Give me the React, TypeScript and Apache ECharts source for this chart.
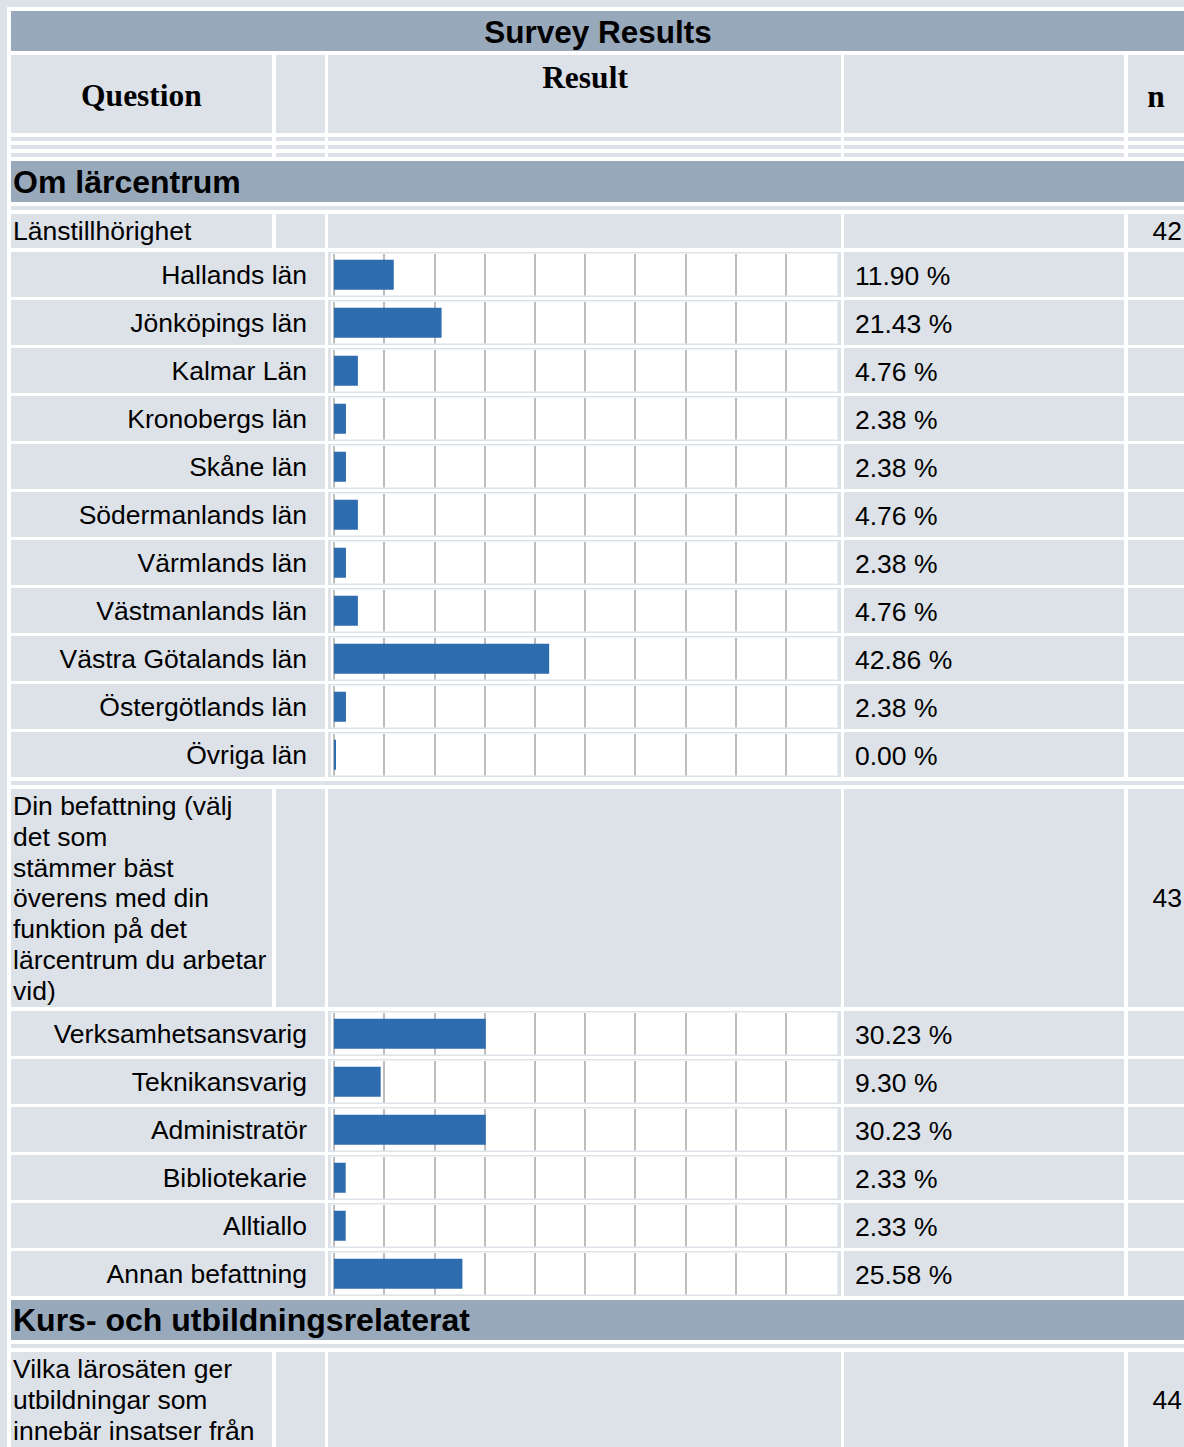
import { useEffect, useRef } from "react";
import * as echarts from "echarts";

// ---------- data ----------
const TITLE = "Survey Results";
const HEAD_QUESTION = "Question";
const HEAD_RESULT = "Result";
const HEAD_N = "n";

const SECTION_1 = "Om lärcentrum";
const SECTION_2 = "Kurs- och utbildningsrelaterat";

const Q1_LINES = ["Länstillhörighet"];
const Q1_N = 42;
const Q1_CATEGORIES = [
  "Hallands län",
  "Jönköpings län",
  "Kalmar Län",
  "Kronobergs län",
  "Skåne län",
  "Södermanlands län",
  "Värmlands län",
  "Västmanlands län",
  "Västra Götalands län",
  "Östergötlands län",
  "Övriga län",
];
const Q1_VALUES = [11.9, 21.43, 4.76, 2.38, 2.38, 4.76, 2.38, 4.76, 42.86, 2.38, 0.0];

const Q2_LINES = [
  "Din befattning (välj",
  "det som",
  "stämmer bäst",
  "överens med din",
  "funktion på det",
  "lärcentrum du arbetar",
  "vid)",
];
const Q2_N = 43;
const Q2_CATEGORIES = [
  "Verksamhetsansvarig",
  "Teknikansvarig",
  "Administratör",
  "Bibliotekarie",
  "Alltiallo",
  "Annan befattning",
];
const Q2_VALUES = [30.23, 9.3, 30.23, 2.33, 2.33, 25.58];

const Q3_LINES = ["Vilka lärosäten ger", "utbildningar som", "innebär insatser från"];
const Q3_N = 44;

// ---------- styling ----------
const W = 1184;
const H = 1447;
const LIGHT = "#dde2e9";
const DARK = "#98a9bb";
const BAR = "#2d6cae";
const GRID_LINE = "#bdbdbd";
const SANS = "'Liberation Sans', Arial, Helvetica, sans-serif";
const SERIF = "'Liberation Serif', 'Times New Roman', serif";
const BODY_FS = 26.5;

const C1: [number, number] = [11, 272];
const C2: [number, number] = [276, 325];
const C3: [number, number] = [328, 841];
const C4: [number, number] = [844, 1124];
const C5: [number, number] = [1128, 1192];
const FULL: [number, number] = [11, 1192];

const ROW_PITCH = 48;
const ROW_H = 45;
const LINE_H = 30.7;

function rect(x: [number, number], y1: number, y2: number, fill: string) {
  return {
    type: "rect",
    silent: true,
    z: -10,
    shape: { x: x[0], y: y1, width: x[1] - x[0], height: y2 - y1 },
    style: { fill },
  };
}

function text(
  t: string,
  x: number,
  y: number,
  align: string,
  opts: { size?: number; weight?: string; family?: string } = {}
) {
  return {
    type: "text",
    silent: true,
    z: 10,
    x,
    y,
    style: {
      text: t,
      fill: "#000",
      fontSize: opts.size ?? BODY_FS,
      fontWeight: opts.weight ?? "normal",
      fontFamily: opts.family ?? SANS,
      textAlign: align,
      align,
      textVerticalAlign: "middle",
      verticalAlign: "middle",
    },
  };
}

function buildOption() {
  const graphics: any[] = [];
  const grids: any[] = [];
  const xAxes: any[] = [];
  const yAxes: any[] = [];
  const series: any[] = [];

  // table white background
  graphics.push({
    type: "rect",
    silent: true,
    z: -20,
    shape: { x: 7, y: 7, width: W, height: H },
    style: { fill: "#ffffff" },
  });

  // Title row
  graphics.push(rect(FULL, 11, 51, DARK));
  graphics.push(text(TITLE, 598, 31.5, "center", { size: 31.5, weight: "bold" }));

  // Header row
  for (const c of [C1, C2, C3, C4, C5]) graphics.push(rect(c, 55, 133, LIGHT));
  graphics.push(text(HEAD_QUESTION, 141.5, 95, "center", { size: 31.5, weight: "bold", family: SERIF }));
  graphics.push(text(HEAD_RESULT, 585, 77, "center", { size: 31.5, weight: "bold", family: SERIF }));
  graphics.push(text(HEAD_N, 1156, 96, "center", { size: 31.5, weight: "bold", family: SERIF }));

  // thin rows
  for (const y of [137, 145, 153]) {
    for (const c of [C1, C2, C3, C4, C5]) graphics.push(rect(c, y, y + 4, LIGHT));
  }

  const questionRow = (lines: string[], n: number, top: number, bottom: number) => {
    for (const c of [C1, C2, C3, C4, C5]) graphics.push(rect(c, top, bottom, LIGHT));
    const blockH = lines.length * LINE_H;
    const first = lines.length === 1 ? (top + bottom) / 2 : top + 2 + LINE_H / 2;
    lines.forEach((l, i) => graphics.push(text(l, 13, first + i * LINE_H, "left")));
    const nY = lines.length === 1 ? (top + bottom) / 2 : top + 2 + blockH / 2;
    graphics.push(text(String(n), 1182, nY, "right"));
  };

  const barRows = (cats: string[], vals: number[], start: number) => {
    cats.forEach((cat, i) => {
      const top = start + i * ROW_PITCH;
      const bottom = top + ROW_H;
      graphics.push(rect([C1[0], C2[1]], top, bottom, LIGHT));
      graphics.push(rect(C3, top, bottom, LIGHT));
      graphics.push(rect([331, 837.5], top + 1.5, top + 43.5, "#ffffff"));
      graphics.push(rect(C4, top, bottom, LIGHT));
      graphics.push(rect(C5, top, bottom, LIGHT));
      graphics.push(text(vals[i].toFixed(2) + " %", 855, top + 23.5, "left"));

      const k = grids.length;
      grids.push({ left: 334, width: 502, top: top + 2, height: 41.5, containLabel: false });
      xAxes.push({
        gridIndex: k,
        type: "value",
        min: 0,
        max: 100,
        interval: 10,
        axisLabel: { show: false },
        axisTick: { show: false },
        axisLine: { show: false },
        splitLine: {
          show: true,
          showMinLine: true,
          showMaxLine: false,
          lineStyle: { color: GRID_LINE, width: 2 },
        },
      });
      yAxes.push({
        gridIndex: k,
        type: "category",
        data: [cat],
        axisLine: { show: false },
        axisTick: { show: false },
        splitLine: { show: false },
        axisLabel: {
          margin: 27,
          fontSize: BODY_FS,
          fontFamily: SANS,
          color: "#000",
        },
      });
      series.push({
        type: "bar",
        xAxisIndex: k,
        yAxisIndex: k,
        data: [vals[i]],
        barWidth: 30,
        barMinHeight: 2,
        itemStyle: { color: BAR },
        silent: true,
        z: 5,
      });
    });
  };

  // Section 1
  graphics.push(rect(FULL, 161, 202, DARK));
  graphics.push(text(SECTION_1, 13, 182, "left", { size: 32, weight: "bold" }));
  graphics.push(rect(FULL, 206, 210, LIGHT));

  questionRow(Q1_LINES, Q1_N, 214, 248);
  barRows(Q1_CATEGORIES, Q1_VALUES, 252);

  graphics.push(rect(FULL, 781, 785, LIGHT));
  questionRow(Q2_LINES, Q2_N, 789, 1007);
  barRows(Q2_CATEGORIES, Q2_VALUES, 1011);

  // Section 2
  graphics.push(rect(FULL, 1300, 1340, DARK));
  graphics.push(text(SECTION_2, 13, 1320, "left", { size: 32, weight: "bold" }));
  graphics.push(rect(FULL, 1344, 1348, LIGHT));
  questionRow(Q3_LINES, Q3_N, 1352, 1470);

  return {
    animation: false,
    backgroundColor: LIGHT,
    graphic: { elements: graphics },
    grid: grids,
    xAxis: xAxes,
    yAxis: yAxes,
    series,
  };
}

export default function App() {
  const ref = useRef<HTMLDivElement>(null);
  useEffect(() => {
    if (!ref.current) return;
    const chart = echarts.init(ref.current, null, { renderer: "svg" });
    chart.setOption(buildOption() as any);
    return () => chart.dispose();
  }, []);
  return (
    <div
      ref={ref}
      style={{ position: "absolute", left: 0, top: 0, width: W, height: H, overflow: "hidden" }}
    />
  );
}
